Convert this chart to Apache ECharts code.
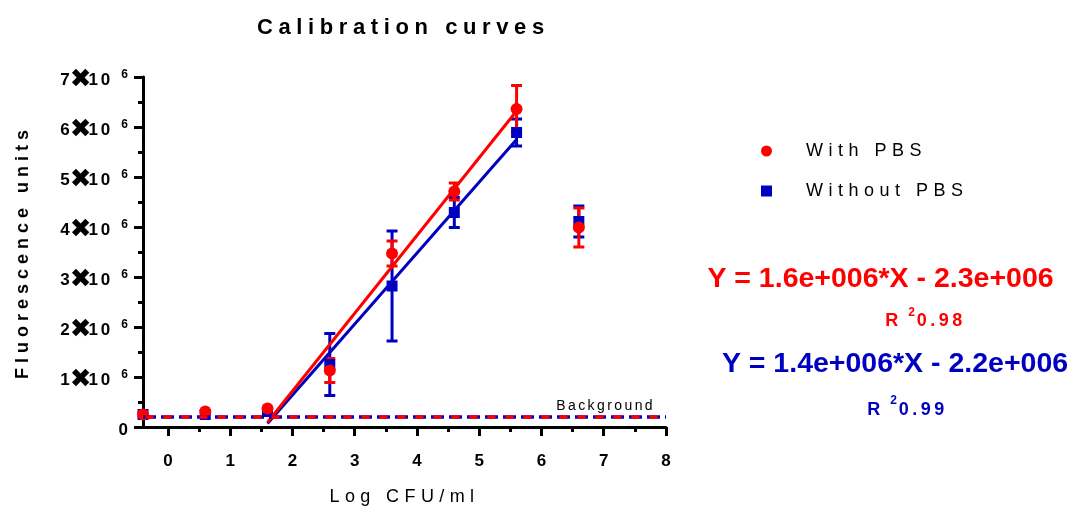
<!DOCTYPE html>
<html>
<head>
<meta charset="utf-8">
<script src="https://cdn.jsdelivr.net/npm/echarts@6/dist/echarts.min.js"></script>
<style>
  html, body { margin: 0; padding: 0; background: #fff; }
  #chart { width: 1072px; height: 506px; }
</style>
</head>
<body>
<div id="chart"></div>
<script>
// Mean fluorescence and SD per dilution (log CFU/ml)
const logCfu = [-0.4, 0.6, 1.6, 2.6, 3.6, 4.6, 5.6, 6.6];
const withPbs = [0.25e6, 0.31e6, 0.37e6, 1.13e6, 3.47e6, 4.71e6, 6.36e6, 3.99e6];
const withPbsSd = [0, 0, 0, 0.24e6, 0.25e6, 0.17e6, 0.47e6, 0.39e6];
const withoutPbs = [0.25e6, 0.25e6, 0.31e6, 1.25e6, 2.82e6, 4.29e6, 5.89e6, 4.11e6];
const withoutPbsSd = [0, 0, 0, 0.62e6, 1.10e6, 0.30e6, 0.27e6, 0.31e6];
const backgroundLevel = 0.2e6;
// dilutions used for the linear fits
const linearRange = [1.6, 5.6];
const xTickValues = [0, 1, 2, 3, 4, 5, 6, 7, 8];
const xMinorTickValues = [0.5, 1.5, 2.5, 3.5, 4.5, 5.5, 6.5, 7.5];
const yTickExponent = 6;
const fitLabels = {
  withPbs: { equation: 'Y = 1.6e+006*X - 2.3e+006', r2: '0.98' },
  withoutPbs: { equation: 'Y = 1.4e+006*X - 2.2e+006', r2: '0.99' }
};

const RED = '#ff0000';
const BLUE = '#0000c0';
const FONT = '"Liberation Sans", Arial, "DejaVu Sans", sans-serif';

// wide tracking for the headings and labels
const tracking = {
  'Calibration curves': '5.6px',
  'Fluorescence units': '5px',
  'Log CFU/ml': '5.4px',
  'With PBS': '5.5px',
  'Without PBS': '5.5px',
  'Background': '2.4px',
  '10': '3px',
  '0.98': '3.5px',
  '0.99': '3.5px'
};
(function () {
  const proto = CanvasRenderingContext2D.prototype;
  const baseFillText = proto.fillText;
  proto.fillText = function (text, x, y, maxWidth) {
    const spacing = tracking[text];
    const draw = () => maxWidth === undefined
      ? baseFillText.call(this, text, x, y)
      : baseFillText.call(this, text, x, y, maxWidth);
    if (!spacing || !('letterSpacing' in this)) return draw();
    this.save();
    this.letterSpacing = spacing;
    draw();
    this.restore();
  };
})();

function linearFit(xs, ys) {
  const n = xs.length;
  const mx = xs.reduce((a, b) => a + b, 0) / n;
  const my = ys.reduce((a, b) => a + b, 0) / n;
  let sxy = 0, sxx = 0;
  for (let i = 0; i < n; i++) {
    sxy += (xs[i] - mx) * (ys[i] - my);
    sxx += (xs[i] - mx) * (xs[i] - mx);
  }
  const slope = sxy / sxx;
  return { slope, intercept: my - slope * mx };
}

function fitLine(means) {
  const idx = logCfu.map((x, i) => i).filter(i => logCfu[i] >= linearRange[0] && logCfu[i] <= linearRange[1]);
  const fit = linearFit(idx.map(i => logCfu[i]), idx.map(i => means[i]));
  return linearRange.map(x => [x, fit.slope * x + fit.intercept]);
}

function errorData(means, sds) {
  return logCfu.map((x, i) => [x, means[i] - sds[i], means[i] + sds[i]]).filter((d, i) => sds[i] > 0);
}

function errorBarSeries(name, means, sds, color) {
  return {
    name: name,
    type: 'custom',
    data: errorData(means, sds),
    silent: true,
    renderItem: function (params, api) {
      const x = api.value(0);
      const top = api.coord([x, api.value(2)]);
      const bot = api.coord([x, api.value(1)]);
      const half = 5.5;
      const style = { stroke: color, lineWidth: 3 };
      return {
        type: 'group',
        children: [
          { type: 'line', shape: { x1: top[0], y1: top[1], x2: bot[0], y2: bot[1] }, style: style },
          { type: 'line', shape: { x1: top[0] - half, y1: top[1], x2: top[0] + half, y2: top[1] }, style: style },
          { type: 'line', shape: { x1: bot[0] - half, y1: bot[1], x2: bot[0] + half, y2: bot[1] }, style: style }
        ]
      };
    }
  };
}

const axisText = { color: '#000', fontFamily: FONT, fontWeight: 'bold', fontSize: 17 };
const blackLine = { color: '#000', width: 3 };

function r2Label(value, color) {
  return {
    text: '{r|R}{s|2}{v|' + value + '}', fill: color,
    textAlign: 'center', textVerticalAlign: 'middle', align: 'center', verticalAlign: 'middle',
    rich: {
      r: { fontFamily: FONT, fontWeight: 'bold', fontSize: 18, fill: color, padding: [6, 0, 0, 0] },
      s: { fontFamily: FONT, fontWeight: 'bold', fontSize: 12, fill: color, verticalAlign: 'top', lineHeight: 12, padding: [0, 0, 0, 10] },
      v: { fontFamily: FONT, fontWeight: 'bold', fontSize: 18, fill: color, padding: [6, 0, 0, 9] }
    }
  };
}

function equationStyle(text, color) {
  return {
    text: text, fill: color,
    font: 'bold 28.5px ' + FONT,
    textAlign: 'center', textVerticalAlign: 'middle', align: 'center', verticalAlign: 'middle'
  };
}

const chart = echarts.init(document.getElementById('chart'), null, { renderer: 'canvas' });

chart.setOption({
  animation: false,
  backgroundColor: '#fff',
  title: {
    text: 'Calibration curves',
    left: 257,
    top: 17,
    padding: 0,
    textStyle: { fontFamily: FONT, fontSize: 22, fontWeight: 'bold', color: '#000' }
  },
  legend: {
    orient: 'vertical',
    left: 761,
    top: 142,
    padding: 0,
    itemWidth: 11,
    itemHeight: 11,
    itemGap: 22,
    selectedMode: false,
    data: [{ name: 'With PBS', icon: 'circle' }, { name: 'Without PBS', icon: 'rect' }],
    textStyle: { fontFamily: FONT, fontSize: 18, color: '#000', padding: [0, 0, 0, 29] }
  },
  grid: { left: 143, right: 406, top: 77, bottom: 79, outerBoundsMode: 'none' },
  xAxis: [
    {
      type: 'value',
      min: logCfu[0],
      max: xTickValues[xTickValues.length - 1],
      name: 'Log CFU/ml',
      nameLocation: 'middle',
      nameGap: 61,
      nameTextStyle: { fontFamily: FONT, fontSize: 18, color: '#000' },
      axisLine: { show: true, onZero: false, lineStyle: blackLine },
      axisTick: { show: true, length: 9, customValues: xTickValues, lineStyle: blackLine },
      axisLabel: Object.assign({ margin: 26, customValues: xTickValues }, axisText),
      splitLine: { show: false }
    },
    {
      type: 'value',
      position: 'bottom',
      min: logCfu[0],
      max: xTickValues[xTickValues.length - 1],
      axisLine: { show: false, onZero: false },
      axisTick: { show: true, length: 5, customValues: xMinorTickValues, lineStyle: blackLine },
      axisLabel: { show: false },
      splitLine: { show: false }
    }
  ],
  yAxis: {
    type: 'value',
    min: 0,
    max: 7e6,
    interval: 1e6,
    name: 'Fluorescence units',
    nameLocation: 'middle',
    nameGap: 111,
    nameTextStyle: { fontFamily: FONT, fontSize: 18, fontWeight: 'bold', color: '#000' },
    axisLine: { show: true, onZero: false, lineStyle: blackLine },
    axisTick: { show: true, length: 9, lineStyle: blackLine },
    minorTick: { show: true, splitNumber: 2, length: 5, lineStyle: blackLine },
    axisLabel: Object.assign({
      margin: 15,
      formatter: function (v) {
        if (v === 0) return '{z|0}';
        return '{n|' + (v / Math.pow(10, yTickExponent)) + '}{x|\u2716}{n|10}{s|' + yTickExponent + '}';
      },
      rich: {
        z: { fontFamily: FONT, fontWeight: 'bold', fontSize: 17, color: '#000', lineHeight: 17, padding: [6, 0, 0, 0] },
        n: { fontFamily: FONT, fontWeight: 'bold', fontSize: 17, color: '#000', lineHeight: 17, padding: [6, 0, 0, 0] },
        x: { fontFamily: '"DejaVu Sans", sans-serif', fontWeight: 'bold', fontSize: 26, color: '#000', lineHeight: 17, padding: [6, 3, 0, 0] },
        s: { fontFamily: FONT, fontWeight: 'bold', fontSize: 12, color: '#000', verticalAlign: 'top', lineHeight: 12, padding: [0, 0, 0, 8] }
      }
    }, axisText),
    splitLine: { show: false },
    minorSplitLine: { show: false }
  },
  series: [
    errorBarSeries('Without PBS SD', withoutPbs, withoutPbsSd, BLUE),
    {
      name: 'Without PBS',
      type: 'scatter',
      symbol: 'rect',
      symbolSize: 11,
      itemStyle: { color: BLUE, opacity: 1 },
      data: logCfu.map((x, i) => [x, withoutPbs[i]]),
      markLine: {
        silent: true,
        symbol: 'none',
        label: { show: false },
        lineStyle: { color: BLUE, width: 3.5, type: [13, 5], dashOffset: 0, opacity: 1 },
        data: [{ yAxis: backgroundLevel }]
      }
    },
    {
      name: 'Without PBS fit',
      type: 'line',
      symbol: 'none',
      lineStyle: { color: BLUE, width: 3 },
      data: fitLine(withoutPbs)
    },
    errorBarSeries('With PBS SD', withPbs, withPbsSd, RED),
    {
      name: 'With PBS',
      type: 'scatter',
      symbol: 'circle',
      symbolSize: 12,
      itemStyle: { color: RED, opacity: 1 },
      data: logCfu.map((x, i) => [x, withPbs[i]]),
      markLine: {
        silent: true,
        symbol: 'none',
        label: {
          show: true,
          position: 'insideEndTop',
          formatter: 'Background',
          fontFamily: FONT,
          fontSize: 14,
          color: '#000',
          distance: [11, 4]
        },
        lineStyle: { color: RED, width: 3.5, type: [8, 10], dashOffset: 15.5, opacity: 1 },
        data: [{ yAxis: backgroundLevel }]
      }
    },
    {
      name: 'With PBS fit',
      type: 'line',
      symbol: 'none',
      lineStyle: { color: RED, width: 3 },
      data: fitLine(withPbs)
    }
  ],
  graphic: [
    { type: 'text', x: 880.5, y: 279, style: equationStyle(fitLabels.withPbs.equation, RED) },
    { type: 'text', x: 922, y: 318.5, style: r2Label(fitLabels.withPbs.r2, RED) },
    { type: 'text', x: 895, y: 364.5, style: equationStyle(fitLabels.withoutPbs.equation, BLUE) },
    { type: 'text', x: 904, y: 407, style: r2Label(fitLabels.withoutPbs.r2, BLUE) }
  ]
});
</script>
</body>
</html>
